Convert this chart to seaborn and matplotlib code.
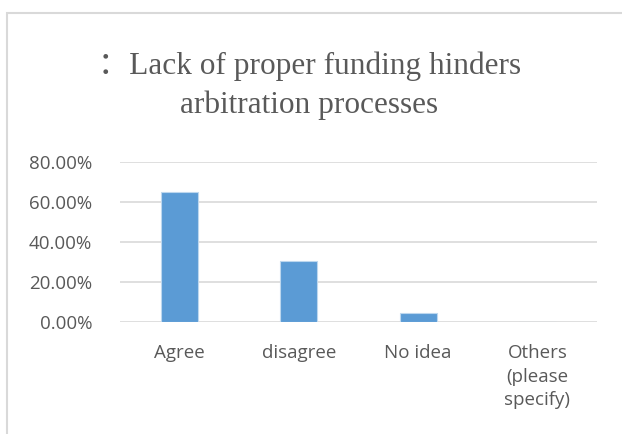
import matplotlib
matplotlib.use("Agg")
import matplotlib.pyplot as plt
import seaborn as sns
import pandas as pd
from matplotlib.patches import Rectangle
from matplotlib.ticker import PercentFormatter

categories = ["Agree", "disagree", "No idea", "Others\n(please\nspecify)"]
shares = [0.652, 0.307, 0.043, 0.0]
y_ticks = [0.0, 0.2, 0.4, 0.6, 0.8]

sns.set_theme(style="white")
plt.rcParams["font.family"] = ["Open Sans", "DejaVu Sans"]

df = pd.DataFrame({"category": categories, "share": shares})

W, H = 622, 434
fig = plt.figure(figsize=(W / 100, H / 100), dpi=100)
fig.patch.set_facecolor("white")

# chart frame
fig.add_artist(Rectangle((7 / W, -0.05), 1.1, 1 - 13 / H + 0.05,
                         transform=fig.transFigure, fill=False,
                         edgecolor="#d9d9d9", linewidth=1.5))

ax = fig.add_axes([120 / W, 1 - 322 / H, (597 - 120) / W, (322 - 162) / H])
sns.barplot(data=df, x="category", y="share", color="#5b9bd5",
            saturation=1, width=0.31, ax=ax, edgecolor="#bdd7ee", linewidth=0.8)

ax.set_ylim(0, 0.8)
ax.set_yticks(y_ticks)
ax.yaxis.set_major_formatter(PercentFormatter(1.0, decimals=2))
ax.set_xlim(-0.5, len(categories) - 0.5)
ax.grid(axis="y", color="#d9d9d9", linewidth=1.2)
ax.set_axisbelow(True)
for s in ax.spines.values():
    s.set_visible(False)
ax.set_xlabel("")
ax.set_ylabel("")
ax.tick_params(axis="y", length=0, pad=20, labelsize=13.5, labelcolor="#595959")
ax.tick_params(axis="x", length=0, pad=16, labelsize=13.5, labelcolor="#595959")
for lbl in ax.get_xticklabels():
    lbl.set_linespacing(1.4)
    lbl.set_verticalalignment("top")

fig.text(0.497, 1 - 86 / H, "：Lack of proper funding hinders\narbitration processes",
         ha="center", va="center", fontsize=22.5, color="#595959",
         family=["Liberation Serif", "Noto Sans CJK SC"], linespacing=1.42)

fig.savefig("out.png", dpi=100)
